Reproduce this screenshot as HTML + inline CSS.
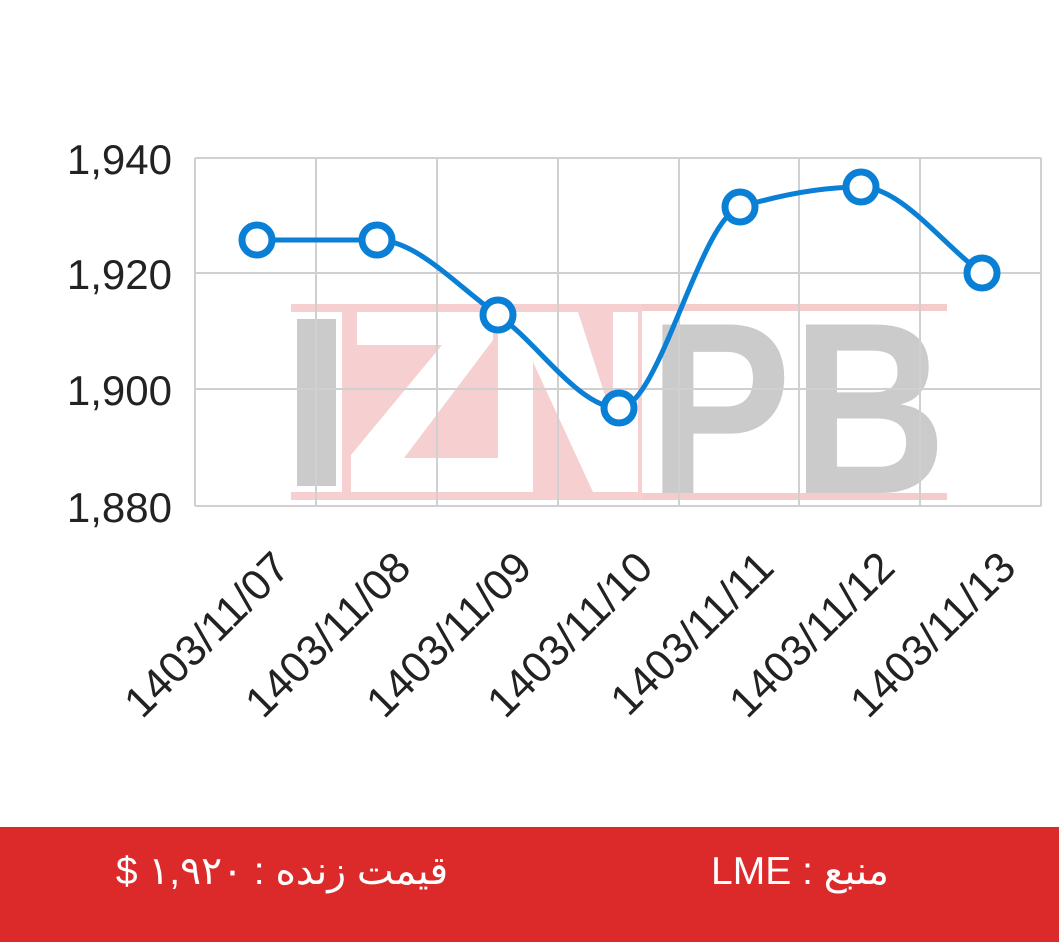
<!DOCTYPE html>
<html><head><meta charset="utf-8"><style>
html,body{margin:0;padding:0;background:#fff;width:1059px;height:942px;overflow:hidden}
svg{display:block}
</style></head><body>
<svg width="1059" height="942" viewBox="0 0 1059 942" xmlns="http://www.w3.org/2000/svg">
<!-- watermark -->
<rect x="291" y="304" width="656" height="7" fill="#f4cccc"/>
<rect x="291" y="493" width="656" height="7" fill="#f4cccc"/>
<rect x="291" y="304" width="351" height="196" fill="#f6d0d0"/>
<rect x="291" y="312" width="51" height="180" fill="#fff"/>
<rect x="297" y="319" width="39" height="167" fill="#cbcbcb"/>
<polygon points="357,312 493,312 493,340 404,458 498,458 498,492 351,492 351,455 442,345 357,345" fill="#fff"/>
<polygon points="498,312 578,312 613,420 613,312 638,312 638,492 593,492 533,362 533,492 498,492" fill="#fff"/>
<text x="648" y="493" font-family="Liberation Sans, sans-serif" font-weight="bold" font-size="245" fill="#cbcbcb" textLength="299" lengthAdjust="spacingAndGlyphs">PB</text>
<!-- grid -->
<g stroke="#d0d0d0" stroke-width="2" fill="none">
<line x1="195" y1="158" x2="1041" y2="158"/>
<line x1="195" y1="273" x2="1041" y2="273"/>
<line x1="195" y1="389" x2="1041" y2="389"/>
<line x1="195" y1="506" x2="1041" y2="506"/>
<line x1="195" y1="158" x2="195" y2="506"/>
<line x1="316" y1="158" x2="316" y2="506"/>
<line x1="437" y1="158" x2="437" y2="506"/>
<line x1="558" y1="158" x2="558" y2="506"/>
<line x1="679" y1="158" x2="679" y2="506"/>
<line x1="799" y1="158" x2="799" y2="506"/>
<line x1="920" y1="158" x2="920" y2="506"/>
<line x1="1041" y1="158" x2="1041" y2="506"/>
</g>
<!-- y labels -->
<g font-family="Liberation Sans, sans-serif" font-size="42" fill="#222" text-anchor="end">
<text x="172" y="174">1,940</text>
<text x="172" y="289">1,920</text>
<text x="172" y="405">1,900</text>
<text x="172" y="522">1,880</text>
</g>
<!-- x labels -->
<g font-family="Liberation Sans, sans-serif" font-size="43" fill="#222" text-anchor="end">
<text transform="translate(292,570) rotate(-45)">1403/11/07</text>
<text transform="translate(413,570) rotate(-45)">1403/11/08</text>
<text transform="translate(534,570) rotate(-45)">1403/11/09</text>
<text transform="translate(655,570) rotate(-45)">1403/11/10</text>
<text transform="translate(776,570) rotate(-45)">1403/11/11</text>
<text transform="translate(897,570) rotate(-45)">1403/11/12</text>
<text transform="translate(1018,570) rotate(-45)">1403/11/13</text>
</g>
<!-- line -->
<path d="M257,240 C297,240 337,240 377,240 C417,240 458,287 498,315 C538,343 579,408 619,408 C659,408 700,219 740,207 C780,195 821,187 861,187 C901,187 942,244 982,273" fill="none" stroke="#0a7fd6" stroke-width="5"/>
<g fill="#fff" stroke="#0a7fd6" stroke-width="7">
<circle cx="257" cy="240" r="15"/>
<circle cx="377" cy="240" r="15"/>
<circle cx="498" cy="315" r="15"/>
<circle cx="619" cy="408" r="15"/>
<circle cx="740" cy="207" r="15"/>
<circle cx="861" cy="187" r="15"/>
<circle cx="982" cy="273" r="15"/>
</g>
<!-- footer -->
<rect x="0" y="827" width="1059" height="115" fill="#dc2a2a"/>
<text x="282" y="884" font-family="'Liberation Sans','Noto Sans CJK SC',sans-serif" font-size="39" fill="#fff" text-anchor="middle" direction="rtl">قیمت زنده : ۱,۹۲۰ $</text>
<text x="800" y="884" font-family="'Liberation Sans','Noto Sans CJK SC',sans-serif" font-size="39" fill="#fff" text-anchor="middle" direction="rtl">منبع : LME</text>
</svg>
</body></html>
